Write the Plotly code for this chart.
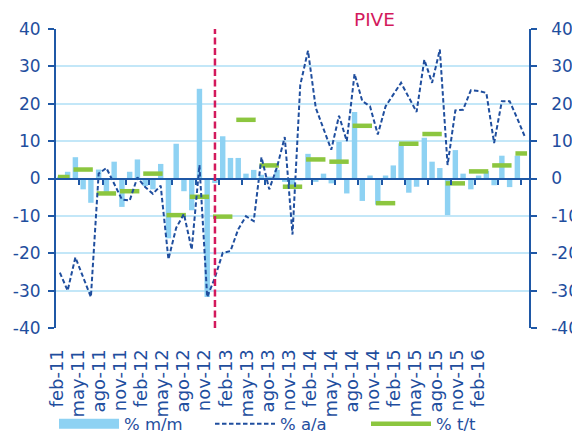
import plotly.graph_objects as go

# ---------------- data ----------------
tick_labels = ["feb-11", "may-11", "ago-11", "nov-11", "feb-12", "may-12", "ago-12",
               "nov-12", "feb-13", "may-13", "ago-13", "nov-13", "feb-14", "may-14",
               "ago-14", "nov-14", "feb-15", "may-15", "ago-15", "nov-15", "feb-16"]

mes = ["ene", "feb", "mar", "abr", "may", "jun", "jul", "ago", "sep", "oct", "nov", "dic"]
months = [f"{mes[(1 + i) % 12]}-{11 + (1 + i) // 12}" for i in range(61)]  # feb-11 .. feb-16

# % m/m (monthly bars)
pct_mm = [0.5, 1.8, 5.7, -2.9, -6.5, 2.4, -3.8, 4.5, -7.6, 1.8,
          5.1, -2.0, -2.9, 3.9, -16.0, 9.3, -3.4, -8.5, 24.0, -31.7,
          -1.2, 11.3, 5.5, 5.5, 1.3, 2.3, 1.0, 0.5, 2.3, -0.9,
          -2.5, -0.5, 6.6, -0.9, 1.3, -1.3, 9.8, -4.0, 17.8, -6.0,
          0.8, -7.0, 0.8, 3.5, 9.4, -3.8, -2.2, 10.9, 4.5, 2.8,
          -9.8, 7.6, 1.3, -2.9, 0.8, 2.0, -1.8, 6.1, -2.3, 6.1,
          None]

# % a/a (monthly dashed line)
pct_aa = [-25.2, -30.0, -21.1, -26.5, -31.7, 1.3, 2.8, -1.4, -5.6, -5.9,
          0.3, -2.3, -4.1, -1.9, -21.6, -13.2, -9.5, -19.0, 3.6, -31.7,
          -26.5, -19.9, -19.4, -13.6, -10.1, -11.4, 5.7, -2.9, 3.0, 11.1,
          -15.0, 25.0, 34.2, 18.9, 13.5, 7.7, 16.8, 10.0, 28.0, 20.7,
          19.3, 11.8, 19.3, 22.4, 25.6, 21.7, 17.8, 31.8, 25.6, 34.5,
          3.6, 18.2, 18.4, 23.6, 23.4, 22.9, 9.5, 20.7, 20.7, 16.0,
          11.0]

# % t/t (one value per quarter, centred on feb, may, ago, nov)
quarter_labels = tick_labels
pct_tt = [0.4, 2.4, -4.0, -3.4, 1.3, -9.8, -4.9, -10.2, 15.7, 3.5,
          -2.2, 5.1, 4.5, 14.1, -6.6, 9.3, 11.9, -1.3, 1.9, 3.5, 6.7]

pive_start = "oct-12"

# ---------------- style ----------------
DARK = "#1F4E9E"
AXIS = "#1F58A6"
LIGHT = "#8ED2F3"
GRID = "#C3E7F8"
GREEN = "#8CC63F"
RED = "#D3195C"
FONT = "DejaVu Sans"

# the page body has an 8 px default margin: the figure starts at (8, 8)
OFF = 8
W, H = 580 - OFF, 441 - OFF

x = list(range(len(months)))

# quarterly segments spanning the three months of each quarter
half = 1.25
tt_x, tt_y = [], []
for lab, v in zip(quarter_labels, pct_tt):
    c = months.index(lab)
    tt_x += [max(c - half, -0.25), min(c + half, len(months) - 0.75), None]
    tt_y += [v, v, None]

fig = go.Figure()
fig.add_trace(go.Bar(x=x, y=pct_mm, marker=dict(color=LIGHT, line=dict(width=0)),
                     name="% m/m", showlegend=False, customdata=months,
                     hovertemplate="%{customdata}: %{y}<extra>% m/m</extra>"))
fig.add_trace(go.Scatter(x=tt_x, y=tt_y, mode="lines", name="% t/t",
                         line=dict(color=GREEN, width=4.5), connectgaps=False,
                         legendrank=3))
fig.add_trace(go.Scatter(x=x, y=pct_aa, mode="lines", name="% a/a",
                         line=dict(color=DARK, width=2, dash="4.5px,2.5px"),
                         customdata=months, legendrank=2,
                         hovertemplate="%{customdata}: %{y}<extra>% a/a</extra>"))
# legend swatch for the bars (wide light-blue band as in the original legend)
fig.add_trace(go.Scatter(x=[None], y=[None], mode="lines", name="% m/m",
                         line=dict(color=LIGHT, width=10), legendrank=1))
# carrier for the label axis / right axis
fig.add_trace(go.Scatter(x=[None], y=[None], xaxis="x2", yaxis="y2",
                         showlegend=False, hoverinfo="skip"))

yticks = list(range(-40, 41, 10))
ytext = [str(v) for v in yticks]
ytext_right = ["\u00a0\u00a0" + t for t in ytext]

plot_h = 328 - 29
title_center_px = 19.5  # window pixels from the top

fig.update_layout(
    width=W, height=H,
    margin=dict(l=56 - OFF, r=580 - 529, t=29 - OFF, b=441 - 328, autoexpand=False),
    paper_bgcolor="white", plot_bgcolor="white",
    bargap=0.3,
    font=dict(family=FONT, color=DARK),
    xaxis=dict(range=[-0.5, len(months) - 0.5], anchor="free", position=0.5,
               showline=True, linecolor=AXIS, linewidth=2,
               ticks="outside", tickvals=[i + 2.5 for i in range(0, 60, 3)],
               ticklen=5, tickwidth=1.5, tickcolor=AXIS,
               showticklabels=False, showgrid=False, zeroline=False),
    xaxis2=dict(overlaying="x", anchor="free", position=0, side="bottom",
                range=[-0.05, 22.39], tickvals=list(range(len(tick_labels))),
                ticktext=tick_labels, tickangle=-90, showline=False, showgrid=False,
                zeroline=False, ticks="outside", ticklen=13,
                tickcolor="rgba(0,0,0,0)",
                tickfont=dict(family=FONT, size=18, color=DARK)),
    yaxis=dict(range=[-40, 40], tickvals=yticks, ticktext=ytext,
               showline=True, linecolor=AXIS, linewidth=2,
               ticks="outside", ticklen=6, tickwidth=1.5, tickcolor=AXIS,
               showgrid=True, gridcolor=GRID, gridwidth=2, zeroline=False,
               ticklabelstandoff=4,
               tickfont=dict(family=FONT, size=17, color=DARK)),
    yaxis2=dict(overlaying="y", side="right", anchor="x", range=[-40, 40],
                tickvals=yticks, ticktext=ytext_right,
                showline=True, linecolor=AXIS, linewidth=2,
                ticks="outside", ticklen=6, tickwidth=1.5, tickcolor=AXIS,
                showgrid=False, zeroline=False,
                tickfont=dict(family=FONT, size=17, color=DARK)),
    legend=dict(orientation="h", xref="container", x=(54 - OFF) / W, xanchor="left",
                yref="container", y=1 - (424 - OFF) / H, yanchor="middle",
                font=dict(family=FONT, size=16.5, color=DARK), itemwidth=60,
                entrywidth=81, bgcolor="rgba(0,0,0,0)"),
    shapes=[dict(type="line", xref="x", yref="paper",
                 x0=months.index(pive_start), x1=months.index(pive_start),
                 y0=0, y1=1, line=dict(color=RED, width=2.5, dash="7px,3.5px"))],
    annotations=[dict(text="PIVE", xref="paper", yref="paper", x=0.673,
                      y=1 + (29 - title_center_px) / plot_h,
                      xanchor="center", yanchor="middle", showarrow=False,
                      font=dict(family=FONT, size=18.5, color=RED))],
)

fig.write_html("out.html")
